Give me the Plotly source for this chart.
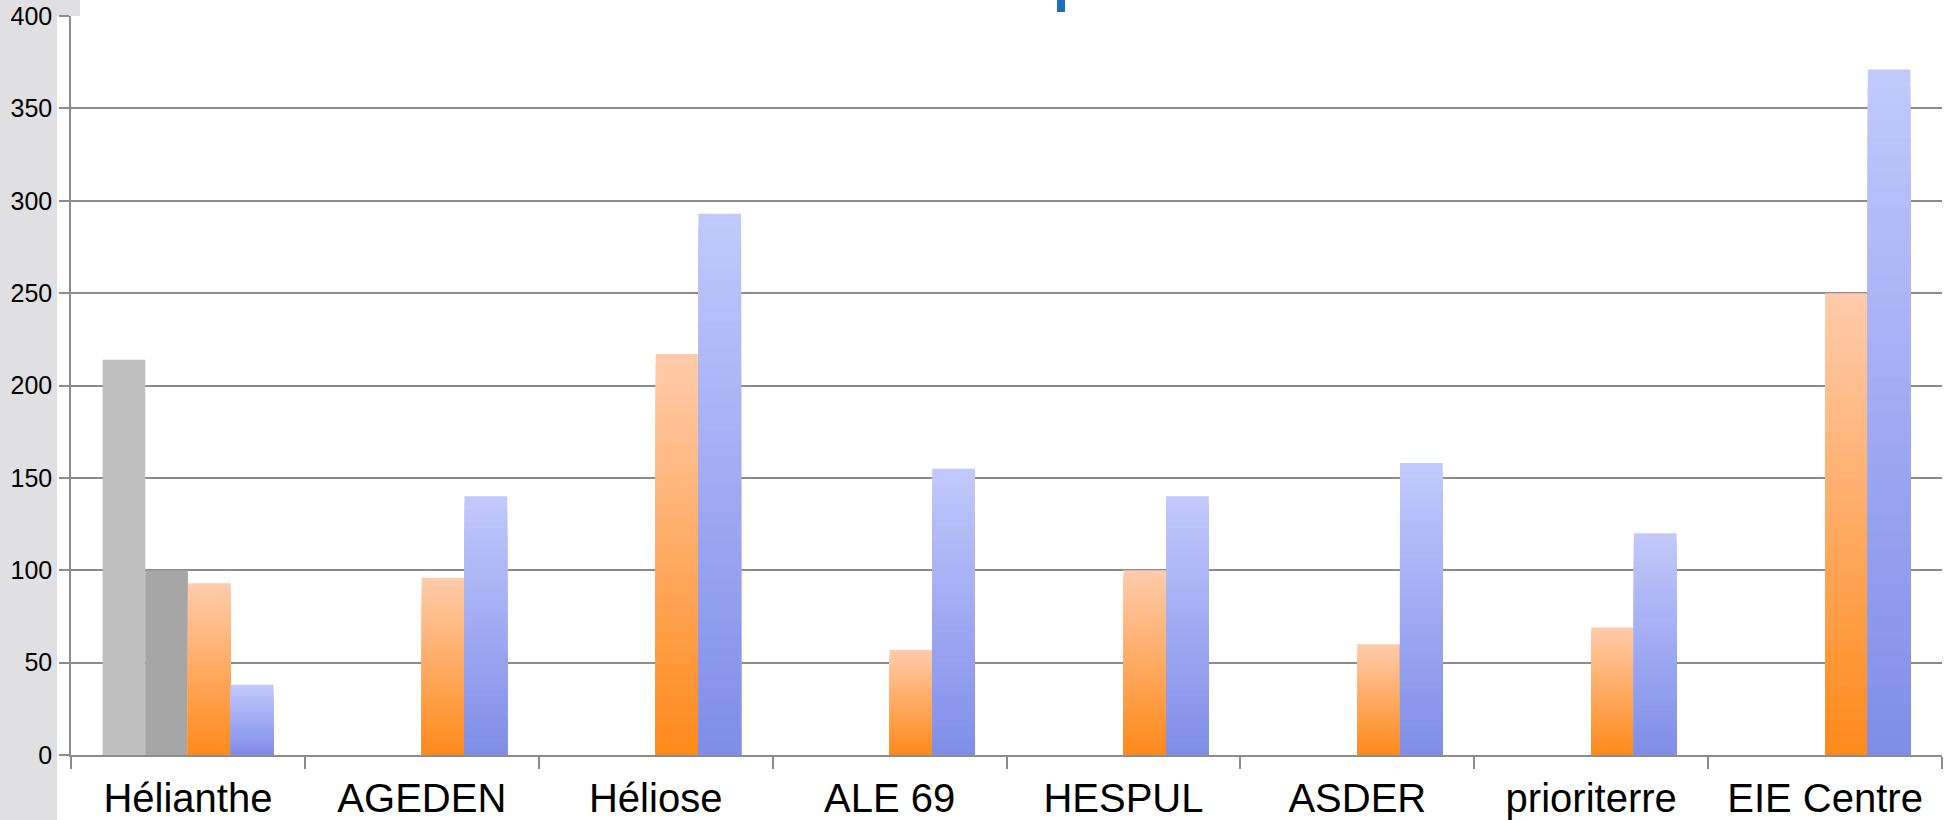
import plotly.graph_objects as go

categories = ["Hélianthe", "AGEDEN", "Héliose", "ALE 69", "HESPUL", "ASDER", "prioriterre", "EIE Centre"]
series_gray1 = [214, None, None, None, None, None, None, None]
series_gray2 = [100, None, None, None, None, None, None, None]
series_orange = [93, 96, 217, 57, 100, 60, 69, 250]
series_blue = [38, 140, 293, 155, 140, 158, 120, 371]
y_ticks = [0, 50, 100, 150, 200, 250, 300, 350, 400]

W, H = 1953, 820
ML, MR, MT, MB = 71, 11, 16, 65
GRID = "#8c8c8c"


def lerp(c1, c2, t):
    return "rgb(%d,%d,%d)" % tuple(round(a + (b - a) * t) for a, b in zip(c1, c2))


fig = go.Figure()


def flat(values, color, group):
    fig.add_trace(go.Bar(x=categories, y=values, marker=dict(color=color, line=dict(width=0)),
                         offsetgroup=group, hoverinfo="skip", showlegend=False))


def gradient(values, top, bottom, group, n=40):
    # draw overlapping bars from full height downwards; each shorter bar darker
    for k in range(n):
        frac = (n - k) / n
        yv = [None if v is None else v * frac for v in values]
        fig.add_trace(go.Bar(x=categories, y=yv, marker=dict(color=lerp(top, bottom, k / (n - 1)), line=dict(width=0)),
                             offsetgroup=group, hoverinfo="skip", showlegend=False))


flat(series_gray1, "#bfbfbf", "g1")
flat(series_gray2, "#a6a6a6", "g2")
gradient(series_orange, (255, 203, 170), (255, 138, 28), "o")
gradient(series_blue, (193, 200, 252), (128, 142, 232), "b")

pw = W - ML - MR
ph = H - MT - MB


def px_x(p):
    return (p - ML) / pw


def px_y(p):
    return (H - MB - p) / ph


shapes = [
    # grey strip on the left
    dict(type="rect", xref="paper", yref="paper", x0=px_x(0), x1=px_x(57), y0=px_y(H), y1=px_y(0),
         fillcolor="#e0e0e2", line=dict(width=0), layer="below"),
    dict(type="rect", xref="paper", yref="paper", x0=px_x(0), x1=px_x(80), y0=px_y(16), y1=px_y(0),
         fillcolor="#e0e0e2", line=dict(width=0), layer="below"),
    # fragment of a cut-off title
    dict(type="rect", xref="paper", yref="paper", x0=px_x(1057), x1=px_x(1065), y0=px_y(12), y1=px_y(0),
         fillcolor="#1f6fb9", line=dict(width=0), layer="above"),
]

fig.update_layout(
    width=W, height=H,
    margin=dict(l=ML, r=MR, t=MT, b=MB, pad=0, autoexpand=False),
    paper_bgcolor="white", plot_bgcolor="white",
    barmode="group", bargap=0.27, bargroupgap=0,
    font=dict(family="Liberation Sans, Arial, sans-serif", color="black"),
    shapes=shapes,
    xaxis=dict(type="category", showline=True, linecolor=GRID, linewidth=1.5, automargin=False,
               ticks="outside", tickson="boundaries", ticklen=12, tickcolor=GRID, tickwidth=1.5,
               tickfont=dict(size=40), showgrid=False, ticklabelstandoff=7),
    yaxis=dict(range=[0, 400], tickvals=y_ticks, showline=True, linecolor=GRID, linewidth=1.5, automargin=False,
               ticks="outside", ticklen=10, tickcolor=GRID, tickwidth=1.5,
               showgrid=True, gridcolor=GRID, gridwidth=1.5, zeroline=False,
               tickfont=dict(size=25), ticklabelstandoff=2),
)

fig.write_html("out.html", config={"displayModeBar": False},
               post_script="document.body.style.margin='0';document.body.style.overflow='hidden';")
